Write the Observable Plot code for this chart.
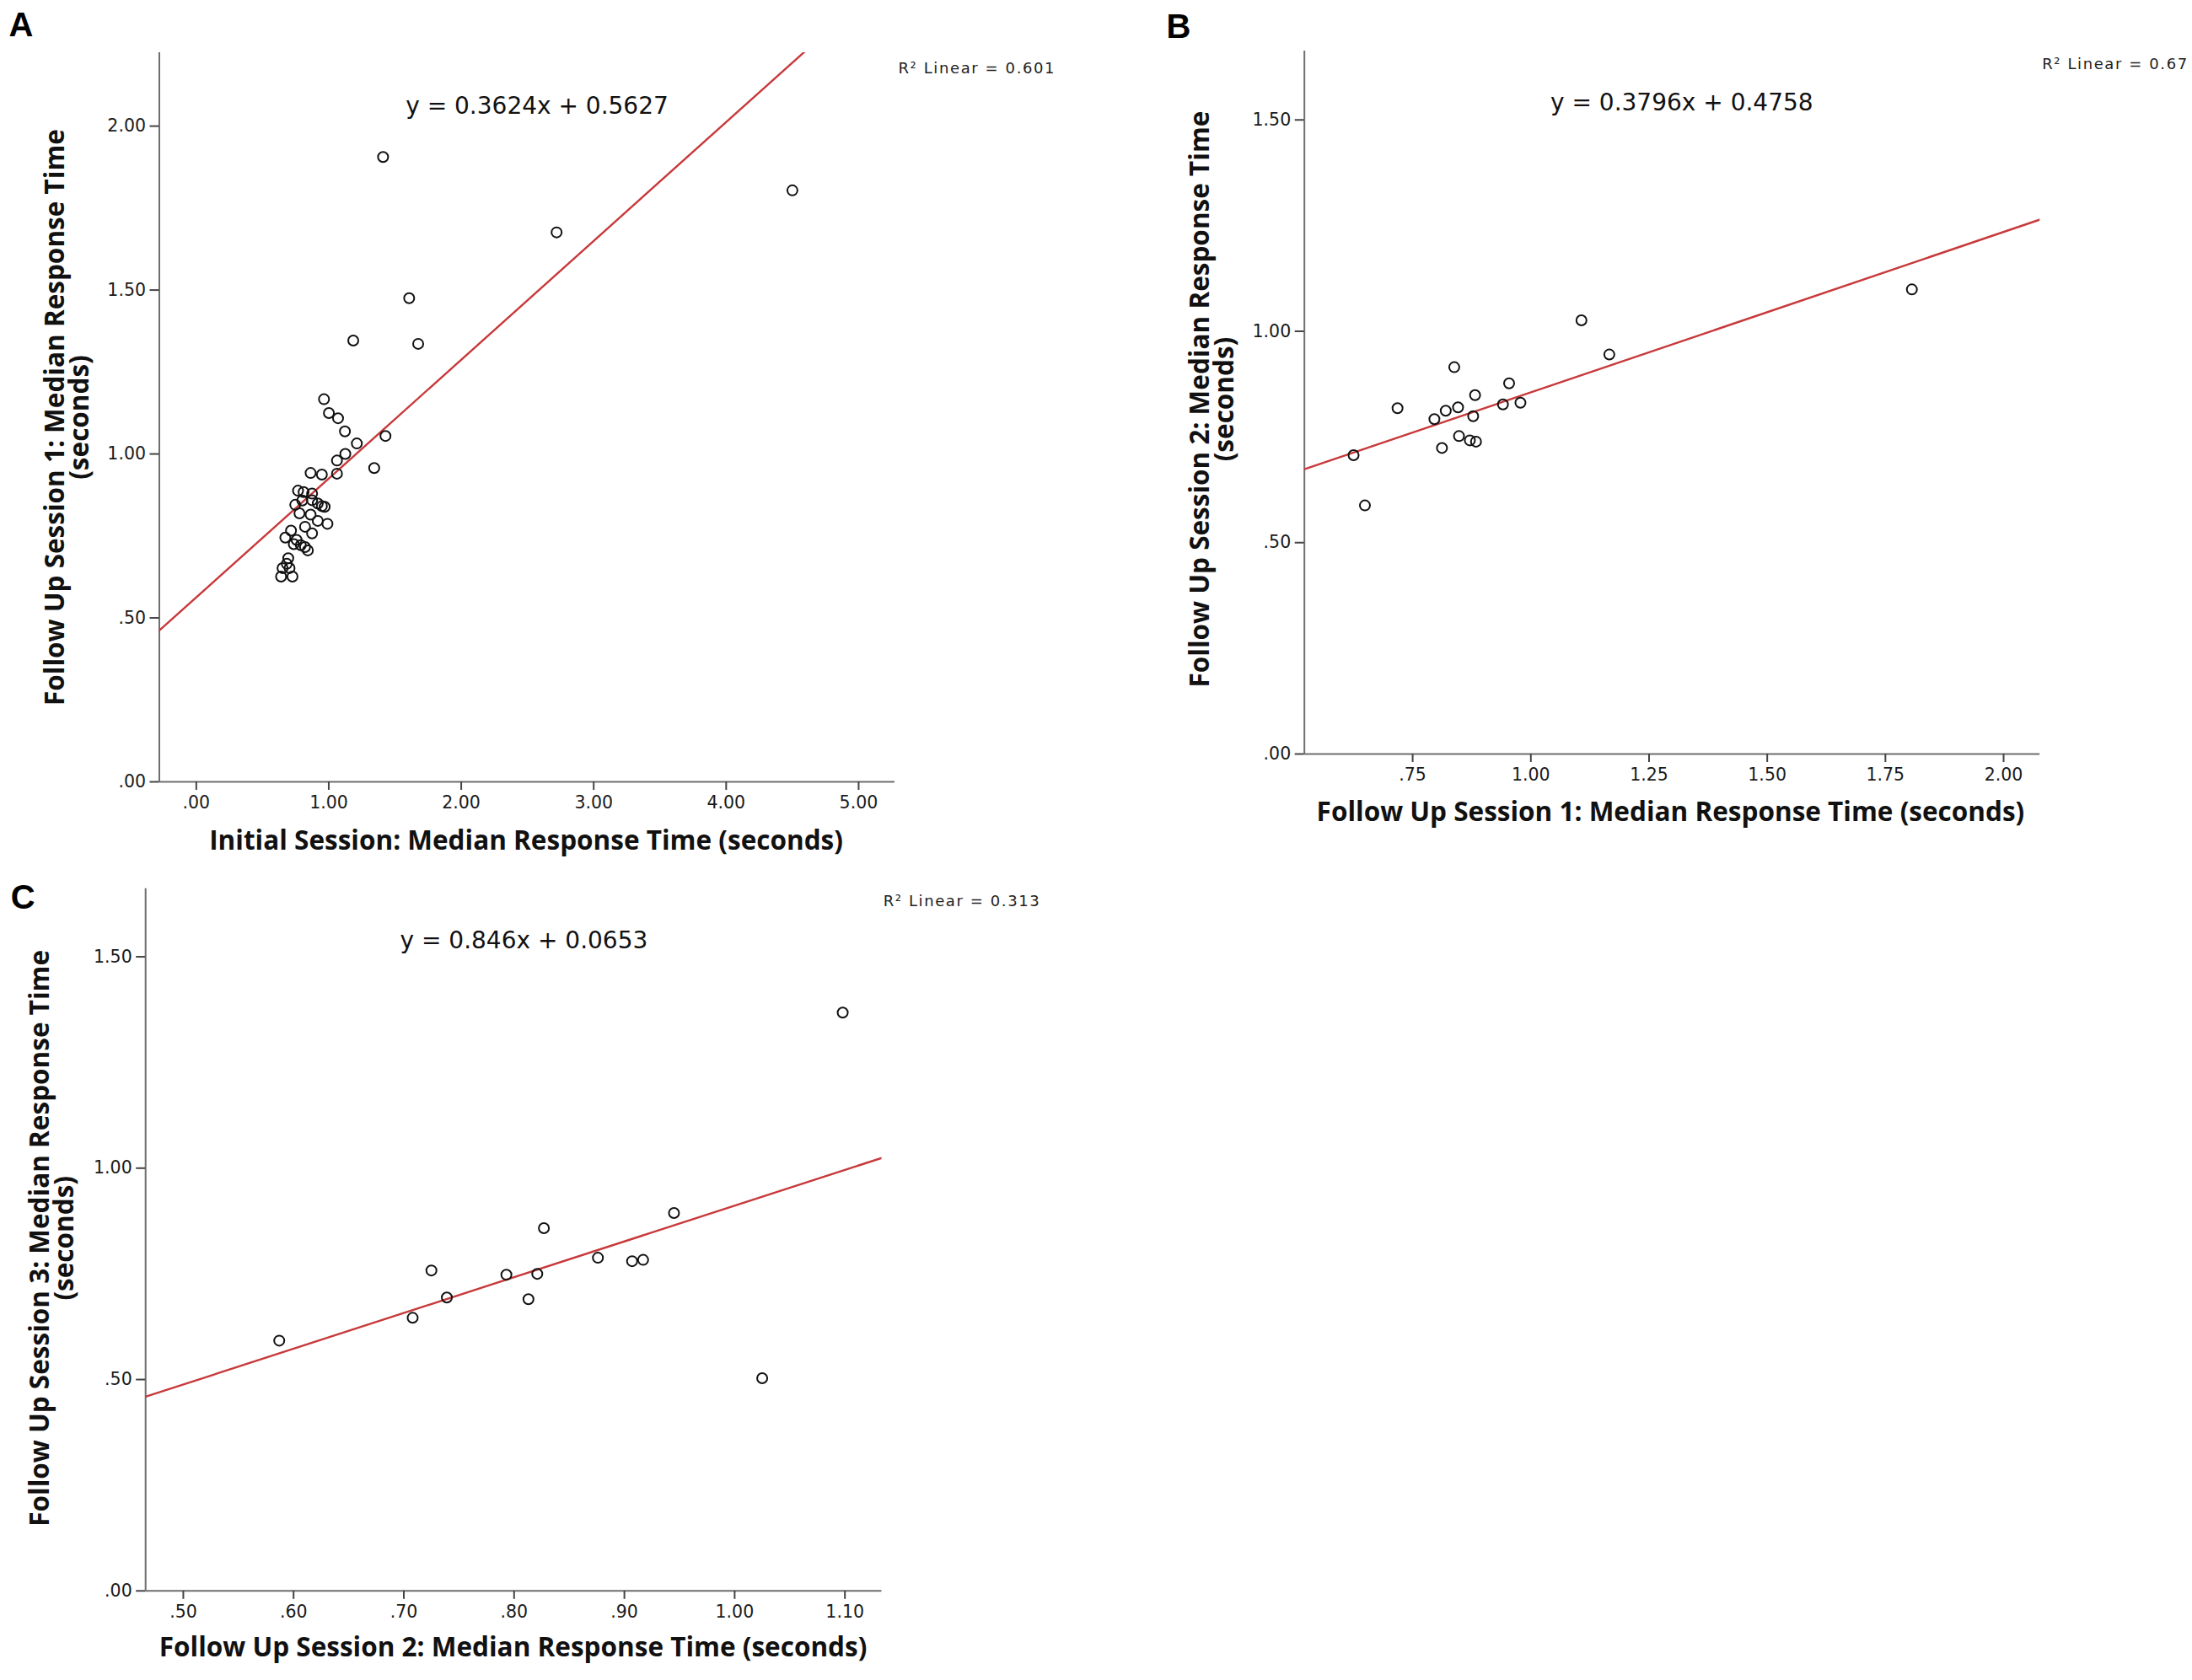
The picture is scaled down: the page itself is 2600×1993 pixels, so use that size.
<!DOCTYPE html>
<html>
<head>
<meta charset="utf-8">
<script src="https://cdn.jsdelivr.net/npm/d3@7"></script>
<script src="https://cdn.jsdelivr.net/npm/@observablehq/plot@0.6"></script>
<style>
html, body { margin: 0; padding: 0; background: #fff; overflow: hidden; }
#root { position: relative; width: 2600px; height: 1993px; background: #fff; overflow: hidden; }
.panel { position: absolute; }
</style>
</head>
<body>
<div id="root"></div>
<script>
// ---------- Panel A: Initial session vs Follow Up Session 1 ----------
const xA = [1.41, 4.50, 2.72, 1.607, 1.675, 1.185, 0.964, 1.001, 1.070, 1.122, 1.212, 1.428, 1.343, 1.125, 1.062, 1.062, 0.863, 0.948,
            0.768, 0.810, 0.874, 0.747, 0.800, 0.874, 0.917, 0.948, 0.969, 0.779, 0.863, 0.917, 0.990, 0.821, 0.715, 0.874,
            0.672, 0.757, 0.736, 0.789, 0.821, 0.842, 0.694, 0.683, 0.651, 0.704, 0.640, 0.726];
const yA = [1.906, 1.804, 1.676, 1.475, 1.336, 1.346, 1.167, 1.125, 1.109, 1.069, 1.032, 1.055, 0.957, 1.000, 0.980, 0.940, 0.942, 0.937,
            0.888, 0.884, 0.879, 0.845, 0.858, 0.859, 0.849, 0.841, 0.839, 0.819, 0.815, 0.796, 0.787, 0.778, 0.766, 0.758,
            0.745, 0.738, 0.725, 0.722, 0.716, 0.706, 0.682, 0.665, 0.652, 0.652, 0.626, 0.626];
const fitA = [0.3624, 0.5627];          // slope, intercept
const xDomainA = [-0.279, 5.274];
const yDomainA = [0, 2.224];
const xTicksA = [0, 1, 2, 3, 4, 5];
const yTicksA = [0, 0.5, 1, 1.5, 2];

// ---------- Panel B: Follow Up Session 1 vs Follow Up Session 2 ----------
const xB = [0.625, 0.649, 0.718, 0.796, 0.812, 0.820, 0.838, 0.846, 0.848, 0.871, 0.884, 0.878, 0.882, 0.941, 0.954, 0.978, 1.107, 1.166, 1.806];
const yB = [0.707, 0.588, 0.818, 0.792, 0.724, 0.812, 0.915, 0.820, 0.752, 0.742, 0.739, 0.799, 0.849, 0.827, 0.877, 0.831, 1.026, 0.945, 1.099];
const fitB = [0.3796, 0.4758];
const xDomainB = [0.521, 2.077];
const yDomainB = [0, 1.663];
const xTicksB = [0.75, 1, 1.25, 1.5, 1.75, 2];
const yTicksB = [0, 0.5, 1, 1.5];

// ---------- Panel C: Follow Up Session 2 vs Follow Up Session 3 ----------
const xC = [0.587, 0.708, 0.725, 0.739, 0.793, 0.813, 0.821, 0.827, 0.876, 0.907, 0.917, 0.945, 1.025, 1.098];
const yC = [0.592, 0.646, 0.758, 0.694, 0.748, 0.690, 0.750, 0.858, 0.788, 0.780, 0.783, 0.894, 0.503, 1.368];
const fitC = [0.846, 0.0653];
const xDomainC = [0.4658, 1.1335];
const yDomainC = [0, 1.661];
const xTicksC = [0.5, 0.6, 0.7, 0.8, 0.9, 1.0, 1.1];
const yTicksC = [0, 0.5, 1, 1.5];

// ---------- Texts ----------
const lettersAll = ["A", "B", "C"];
const equations = ["y = 0.3624x + 0.5627", "y = 0.3796x + 0.4758", "y = 0.846x + 0.0653"];
const r2Labels = ["R² Linear = 0.601", "R² Linear = 0.67", "R² Linear = 0.313"];
const xTitles = [
  "Initial Session: Median Response Time (seconds)",
  "Follow Up Session 1: Median Response Time (seconds)",
  "Follow Up Session 2: Median Response Time (seconds)"
];
const yTitles = [
  "Follow Up Session 1: Median Response Time\n(seconds)",
  "Follow Up Session 2: Median Response Time\n(seconds)",
  "Follow Up Session 3: Median Response Time\n(seconds)"
];

const fmt = d => d3.format(".2f")(d).replace(/^0\./, ".");
const RED = "#c8393b";
const AXIS = "#6e6e6e";

function panel(cfg) {
  const pts = cfg.x.map((x, i) => ({x, y: cfg.y[i]}));
  const fitLine = cfg.xDomain.map(x => ({x, y: cfg.fit[0] * x + cfg.fit[1]}));
  const svg = Plot.plot({
    width: cfg.width,
    height: cfg.height,
    marginLeft: cfg.m[0], marginRight: cfg.m[1], marginTop: cfg.m[2], marginBottom: cfg.m[3],
    style: {background: "none", overflow: "visible", fontFamily: "DejaVu Sans", fontSize: "20px", color: "#222"},
    x: {domain: cfg.xDomain},
    y: {domain: cfg.yDomain},
    marks: [
      Plot.ruleX([cfg.xDomain[0]], {stroke: AXIS, strokeWidth: 2}),
      Plot.ruleY([cfg.yDomain[0]], {stroke: AXIS, strokeWidth: 2}),
      Plot.axisX({ticks: cfg.xTicks, tickFormat: fmt, tickSize: 10, tickPadding: 7, stroke: "#444", fill: "#1a1a1a",
                  strokeWidth: 2, fontSize: 20.5, fontFamily: "DejaVu Sans", label: null}),
      Plot.axisY({ticks: cfg.yTicks, tickFormat: fmt, tickSize: 11, tickPadding: 5, stroke: "#444", fill: "#1a1a1a",
                  strokeWidth: 2, fontSize: 20.5, fontFamily: "DejaVu Sans", label: null}),
      Plot.line(fitLine, {x: "x", y: "y", stroke: RED, strokeWidth: 2.4, clip: true}),
      Plot.dot(pts, {x: "x", y: "y", r: 6, stroke: "#111", strokeWidth: 2, fill: "none"}),
      Plot.text([cfg.letter], {frameAnchor: "top-left", textAnchor: "start", lineAnchor: "middle",
                  dx: cfg.letterOff[0], dy: cfg.letterOff[1], fontSize: 40, fontWeight: "bold",
                  fontFamily: "Liberation Sans", fill: "#000"}),
      Plot.text([cfg.eq], {frameAnchor: "top-left", textAnchor: "middle", lineAnchor: "middle",
                  dx: cfg.eqOff[0], dy: cfg.eqOff[1], fontSize: 28, fontFamily: "DejaVu Sans", fill: "#111"}),
      Plot.text([cfg.r2], {frameAnchor: "top-left", textAnchor: "start", lineAnchor: "middle",
                  dx: cfg.r2Off[0], dy: cfg.r2Off[1], fontSize: 18, fontFamily: "DejaVu Sans", fill: "#222"}),
      Plot.text([cfg.xTitle], {frameAnchor: "bottom", textAnchor: "middle", lineAnchor: "middle",
                  dx: cfg.xtOff[0], dy: cfg.xtOff[1], fontSize: 31.5, fontWeight: "bold",
                  fontFamily: "Open Sans", fill: "#111"}),
      Plot.text([cfg.yTitle], {frameAnchor: "left", textAnchor: "middle", lineAnchor: "middle", rotate: -90,
                  lineHeight: 0.92, dx: cfg.ytOff[0], dy: cfg.ytOff[1], fontSize: 31.5, fontWeight: "bold",
                  fontFamily: "Open Sans", fill: "#111"})
    ]
  });
  d3.select(svg).selectAll("text")
    .filter(function() { return this.textContent.startsWith("R²"); })
    .style("letter-spacing", "1.6px");
  const wrap = document.createElement("div");
  wrap.className = "panel";
  wrap.style.left = cfg.left + "px";
  wrap.style.top = cfg.top + "px";
  wrap.appendChild(svg);
  document.getElementById("root").appendChild(wrap);
}

panel({
  left: 0, top: 0, width: 1300, height: 1030, m: [188.5, 239, 62, 103],
  x: xA, y: yA, fit: fitA, xDomain: xDomainA, yDomain: yDomainA, xTicks: xTicksA, yTicks: yTicksA,
  letter: lettersAll[0], eq: equations[0], r2: r2Labels[0], xTitle: xTitles[0], yTitle: yTitles[0],
  letterOff: [-178.5, -32], eqOff: [448, 64], r2Off: [876.5, 18.3], xtOff: [-1.2, 70], ytOff: [-108, 0]
});
panel({
  left: 1300, top: 0, width: 1300, height: 1030, m: [246.7, 180.8, 60, 136],
  x: xB, y: yB, fit: fitB, xDomain: xDomainB, yDomain: yDomainB, xTicks: xTicksB, yTicks: yTicksB,
  letter: lettersAll[1], eq: equations[1], r2: r2Labels[1], xTitle: xTitles[1], yTitle: yTitles[1],
  letterOff: [-163.7, -28], eqOff: [447.6, 62], r2Off: [875, 16], xtOff: [-2, 69], ytOff: [-108, -4]
});
panel({
  left: 0, top: 1000, width: 1300, height: 993, m: [172.2, 254.5, 53.8, 106.2],
  x: xC, y: yC, fit: fitC, xDomain: xDomainC, yDomain: yDomainC, xTicks: xTicksC, yTicks: yTicksC,
  letter: lettersAll[2], eq: equations[2], r2: r2Labels[2], xTitle: xTitles[2], yTitle: yTitles[2],
  letterOff: [-160, 11], eqOff: [448.7, 61.6], r2Off: [875, 14.5], xtOff: [-0.8, 68], ytOff: [-109, -2]
});
</script>
</body>
</html>
